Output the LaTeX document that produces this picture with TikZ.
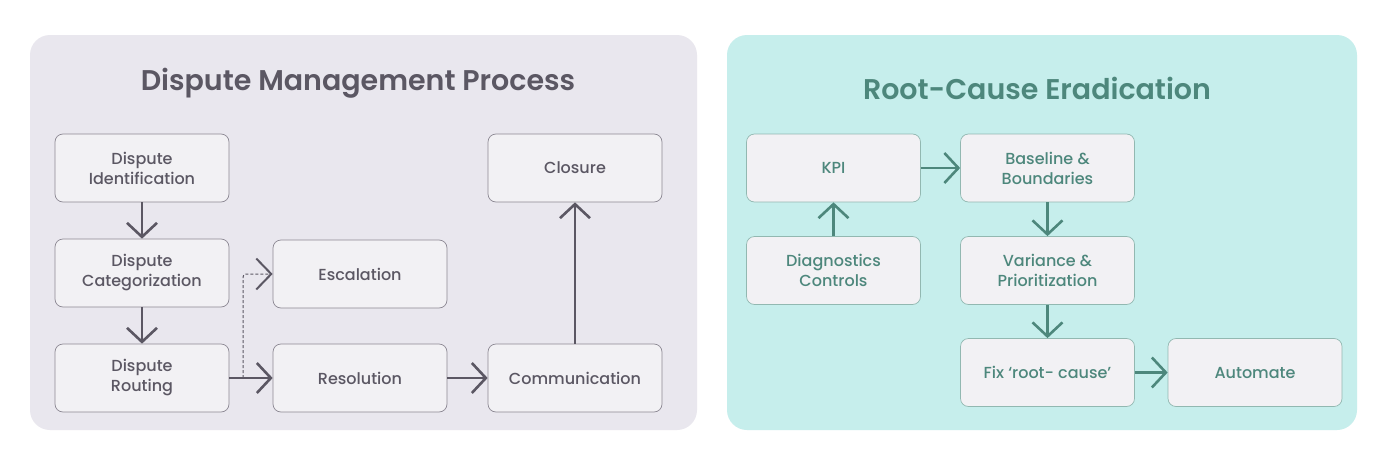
\documentclass[tikz,border=0pt]{standalone}
\usepackage{fontspec}
\setmainfont{Poppins}[UprightFont=* Medium, BoldFont=* SemiBold]
\usetikzlibrary{arrows.meta}

\definecolor{leftbg}{HTML}{E9E7EE}
\definecolor{rightbg}{HTML}{C6EEEC}
\definecolor{boxfill}{HTML}{F2F1F4}
\definecolor{leftink}{HTML}{5B5763}
\definecolor{rightink}{HTML}{4D877C}
\definecolor{leftline}{HTML}{8C8893}
\definecolor{rightline}{HTML}{92B8B1}

\tikzset{
  stepbox/.style={draw, line width=0.7pt, fill=boxfill, rounded corners=8pt,
    minimum width=174pt, minimum height=68pt, align=center,
    font=\fontsize{16}{20}\selectfont},
  leftbox/.style={stepbox, draw=leftline, text=leftink},
  rightbox/.style={stepbox, draw=rightline, text=rightink},
  flow/.style={line width=2.6pt, -{Straight Barb[length=14pt,width=30pt]}},
  title/.style={font=\fontsize{28.5}{32}\selectfont\bfseries}
}

\begin{document}
\begin{tikzpicture}[x=1pt,y=-1pt]
\useasboundingbox (0,0) rectangle (1379,474);
\fill[white] (0,0) rectangle (1379,474);

% panels
\fill[leftbg, rounded corners=20pt] (30,35) rectangle (697,430);
\fill[rightbg, rounded corners=20pt] (727,35) rectangle (1357,430);

\node[title, text=leftink] (lefttitle) at (358,83) {Dispute Management Process};
\node[title, text=rightink] (righttitle) at (1037,88) {Root-Cause Eradication};

% dispute management
\node[leftbox] (ident) at (142,168) {Dispute\\Identification};
\node[leftbox] (categ) at (142,273) {Dispute\\Categorization};
\node[leftbox] (routing) at (142,378) {Dispute\\Routing};
\node[leftbox] (escal) at (360,274) {Escalation};
\node[leftbox] (resol) at (360,378) {Resolution};
\node[leftbox] (closure) at (575,168) {Closure};
\node[leftbox] (comm) at (575,378) {Communication};
\coordinate (split) at (243,378);

\draw[flow, leftink] (ident) -- (categ);
\draw[flow, leftink] (categ) -- (routing);
\draw[flow, leftink] (routing) -- (resol);
\draw[leftink, line width=1pt, dash pattern=on 3pt off 2pt, rounded corners=3pt,
  -{Straight Barb[length=15pt,width=31pt,line width=2pt]}] (split) |- (escal.west);
\draw[flow, leftink] (resol) -- (comm);
\draw[flow, leftink] (comm) -- (closure);

% root cause
\node[rightbox] (kpi) at (833.5,168) {KPI};
\node[rightbox] (diag) at (833.5,270.5) {Diagnostics\\Controls};
\node[rightbox] (baseline) at (1047.5,168) {Baseline \&\\Boundaries};
\node[rightbox] (variance) at (1047.5,270.5) {Variance \&\\Prioritization};
\node[rightbox] (fix) at (1047.5,372.5) {Fix ‘root- cause’};
\node[rightbox] (automate) at (1255,372.5) {Automate};

\draw[flow, rightink] (diag) -- (kpi);
\draw[flow, rightink] (kpi) -- (baseline);
\draw[flow, rightink] (baseline) -- (variance);
\draw[flow, rightink] (variance) -- (fix);
\draw[flow, rightink] (fix) -- (automate);
\end{tikzpicture}
\end{document}
